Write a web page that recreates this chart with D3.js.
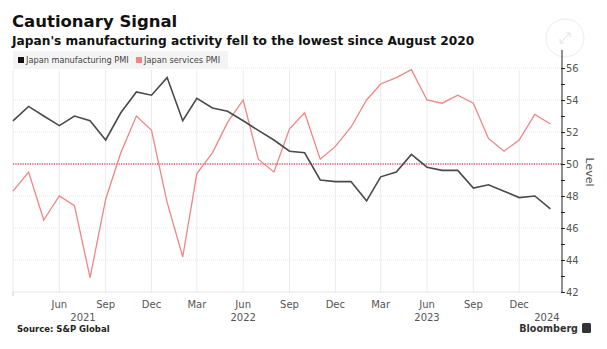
<!DOCTYPE html>
<html lang="en">
  <head>
    <meta charset="utf-8">
    <title>Cautionary Signal</title>
    <script src="https://d3js.org/d3.v7.min.js"></script>
    <style>
      body { margin: 0; background: #ffffff; }
      svg { display: block; }
      .title { font-family: "DejaVu Sans", sans-serif; font-weight: bold; font-size: 16.5px; fill: #111; }
      .subtitle { font-family: "DejaVu Sans", sans-serif; font-weight: bold; font-size: 12.2px; fill: #111; }
      .legend { font-family: "DejaVu Sans", sans-serif; font-size: 8.2px; fill: #444; }
      .tick-label { font-family: "DejaVu Sans", sans-serif; font-size: 10px; fill: #555; }
      .source { font-family: "DejaVu Sans", sans-serif; font-weight: bold; font-size: 8.5px; fill: #222; }
      .brand { font-family: "DejaVu Sans", sans-serif; font-weight: bold; font-size: 9.6px; fill: #333; }
    </style>
  </head>
  <body>
    <svg id="chart" width="607" height="349"></svg>
    <script>

    // data (monthly, Mar 2021 - Feb 2024)
    const startMonth = '2021-03';
    const manufacturing = [52.7, 53.6, 53.0, 52.4, 53.0, 52.7, 51.5, 53.2, 54.5, 54.3,
                           55.4, 52.7, 54.1, 53.5, 53.3, 52.7, 52.1, 51.5, 50.8, 50.7, 49.0, 48.9,
                           48.9, 47.7, 49.2, 49.5, 50.6, 49.8, 49.6, 49.6, 48.5, 48.7, 48.3, 47.9,
                           48.0, 47.2];
    const services = [48.3, 49.5, 46.5, 48.0, 47.4, 42.9, 47.8, 50.7, 53.0, 52.1,
                      47.6, 44.2, 49.4, 50.7, 52.6, 54.0, 50.3, 49.5, 52.2, 53.2, 50.3, 51.1,
                      52.3, 54.0, 55.0, 55.4, 55.9, 54.0, 53.8, 54.3, 53.8, 51.6, 50.8, 51.5,
                      53.1, 52.5];
    const yTicks = [42, 44, 46, 48, 50, 52, 54, 56];
    const yearLabels = [
      {label: '2021', date: '2021-07-18'},
      {label: '2022', date: '2022-06-01'},
      {label: '2023', date: '2023-06-01'},
      {label: '2024', date: '2024-01-25'}
    ];
    const seriesNames = ['Japan manufacturing PMI', 'Japan services PMI'];
    const seriesColors = ['#4a4a4a', '#f08585'];

    const parseMonth = d3.timeParse('%Y-%m');
    const parseDay = d3.timeParse('%Y-%m-%d');
    const start = parseMonth(startMonth);
    const dates = manufacturing.map((d, i) => d3.timeMonth.offset(start, i));

    // layout
    const plot = {left: 13, right: 562, top: 50, bottom: 292};

    const svg = d3.select('#chart');

    const x = d3.scaleTime()
      .domain([start, parseDay('2024-02-24')])
      .range([plot.left, plot.right]);

    const y = d3.scaleLinear()
      .domain([42, 57.125])
      .range([plot.bottom, plot.top]);

    // titles
    svg.append('text').attr('class', 'title').attr('x', 12).attr('y', 27).text('Cautionary Signal');
    svg.append('text').attr('class', 'subtitle').attr('x', 12).attr('y', 45)
      .text("Japan's manufacturing activity fell to the lowest since August 2020");

    // expand icon (faint)
    const icon = svg.append('g').attr('transform', 'translate(565,38)');
    icon.append('circle').attr('r', 19).attr('fill', 'none').attr('stroke', '#ececec');
    icon.append('path').attr('d', 'M-5,5 L5,-5 M1,-5 L5,-5 L5,-1 M-5,1 L-5,5 L-1,5')
      .attr('fill', 'none').attr('stroke', '#e2e2e2').attr('stroke-width', 1);

    // vertical gridlines at Mar / Jun / Sep / Dec
    const quarterMonths = d3.timeMonths(start, x.domain()[1]).filter(d => d.getMonth() % 3 === 2);

    svg.append('g')
      .selectAll('line')
      .data(quarterMonths)
      .join('line')
      .attr('x1', d => x(d)).attr('x2', d => x(d))
      .attr('y1', plot.top + 20).attr('y2', plot.bottom)
      .attr('stroke', '#ebebeb').attr('stroke-width', 1);

    // horizontal gridlines
    svg.append('g')
      .selectAll('line')
      .data(yTicks)
      .join('line')
      .attr('x1', plot.left).attr('x2', plot.right)
      .attr('y1', d => y(d)).attr('y2', d => y(d))
      .attr('stroke', '#e6e6e6').attr('stroke-width', 1)
      .attr('stroke-dasharray', d => d === 42 ? null : '1,1');

    // legend
    const legend = svg.append('g');
    legend.append('rect').attr('x', 13).attr('y', 51).attr('width', 215).attr('height', 18).attr('fill', '#f4f4f4');
    const legendX = [18, 136];
    seriesNames.forEach((name, i) => {
      legend.append('rect').attr('x', legendX[i]).attr('y', 57).attr('width', 6).attr('height', 6)
        .attr('fill', i === 0 ? '#111' : seriesColors[1]);
      legend.append('text').attr('class', 'legend').attr('x', legendX[i] + 8).attr('y', 63).text(name);
    });

    // 50 reference line
    svg.append('line')
      .attr('x1', plot.left).attr('x2', plot.right)
      .attr('y1', y(50)).attr('y2', y(50))
      .attr('stroke', '#e8506e').attr('stroke-width', 1.4)
      .attr('stroke-dasharray', '1.2,1.2');

    // lines
    const line = d3.line()
      .x((d, i) => x(dates[i]))
      .y(d => y(d));

    svg.append('path').datum(services)
      .attr('d', line).attr('fill', 'none')
      .attr('stroke', seriesColors[1]).attr('stroke-width', 1.3);

    svg.append('path').datum(manufacturing)
      .attr('d', line).attr('fill', 'none')
      .attr('stroke', seriesColors[0]).attr('stroke-width', 1.6);

    // right axis
    const yAxis = d3.axisRight(y)
      .tickValues(d3.range(42, 57, 1))
      .tickSize(3)
      .tickFormat(d => d % 2 === 0 ? d : '');

    const gy = svg.append('g')
      .attr('transform', 'translate(' + plot.right + ',0)')
      .call(yAxis);
    gy.select('.domain').attr('d', 'M0,' + plot.top + 'V' + plot.bottom).attr('stroke', '#222');
    gy.selectAll('.tick line').attr('stroke', '#222').attr('x1', -1);
    gy.selectAll('.tick text').attr('class', 'tick-label').attr('x', 4).attr('dy', '0.35em');

    svg.append('text')
      .attr('class', 'tick-label')
      .attr('transform', 'translate(586,' + y(49.5) + ') rotate(90)')
      .attr('text-anchor', 'middle')
      .style('font-size', '11px')
      .text('Level');

    // bottom axis labels
    svg.append('line').attr('x1', plot.left).attr('x2', plot.left)
      .attr('y1', plot.bottom).attr('y2', plot.bottom + 4).attr('stroke', '#ccc');

    svg.append('g')
      .selectAll('text')
      .data(quarterMonths.filter(d => +d > +start))
      .join('text')
      .attr('class', 'tick-label')
      .attr('x', d => x(d))
      .attr('y', 308)
      .attr('text-anchor', 'middle')
      .text(d3.timeFormat('%b'));

    svg.append('g')
      .selectAll('text')
      .data(yearLabels)
      .join('text')
      .attr('class', 'tick-label')
      .attr('x', d => x(parseDay(d.date)))
      .attr('y', 321)
      .attr('text-anchor', 'middle')
      .text(d => d.label);

    // footer
    svg.append('text').attr('class', 'source').attr('x', 17).attr('y', 332).text('Source: S&P Global');
    svg.append('text').attr('class', 'brand').attr('x', 578).attr('y', 332).attr('text-anchor', 'end').text('Bloomberg');
    svg.append('rect').attr('x', 582).attr('y', 323).attr('width', 9).attr('height', 10).attr('rx', 1.5).attr('fill', '#333');

    </script>
  </body>
</html>
